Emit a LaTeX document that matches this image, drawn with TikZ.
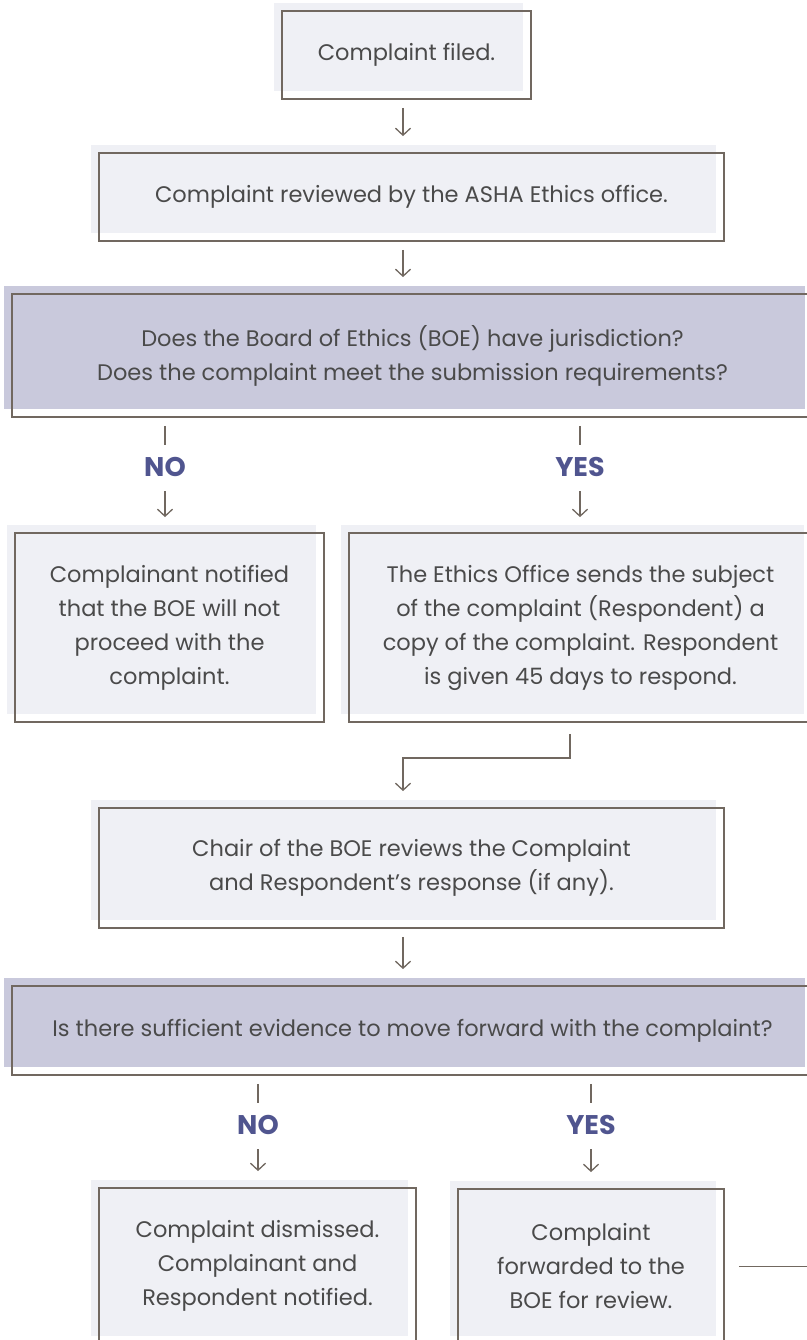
\documentclass[tikz,border=0pt]{standalone}
\usepackage{fontspec}
\setmainfont{Poppins}
\usepackage{tikz}
\usetikzlibrary{arrows.meta,positioning,calc}
\definecolor{edge}{HTML}{716860}
\definecolor{ink}{HTML}{4A4A4A}
\definecolor{paper}{HTML}{EFF0F5}
\definecolor{lilac}{HTML}{C9C9DC}
\definecolor{verdict}{HTML}{50558F}
\tikzset{
  plain box/.style={
    draw=edge,
    line width=1.8pt,
    text=ink,
    align=center,
    inner sep=0pt,
    font=\fontsize{22.5}{34}\selectfont,
    preaction={fill=#1, draw=none, transform canvas={shift={(-8pt,8pt)}}}
  },
  plain box/.default=paper,
  query box/.style={
    plain box=lilac
  },
  answer/.style={
    inner sep=0pt,
    minimum height=44pt,
    text=verdict,
    font=\fontsize{27}{27}\selectfont\bfseries
  }
}
\begin{document}
\begin{tikzpicture}[%
        x=1pt,
        y=-1pt,
        flow/.style={draw=edge, line width=1.3pt, shorten <=8pt, shorten >=16pt,
                     -{Straight Barb[length=7pt,width=15pt,line width=1.3pt]}},
        stem/.style={draw=edge, line width=1.3pt, shorten <=8pt}]
      \useasboundingbox (0,0) rectangle (806,1340);
      \coordinate (mid) at (403,0);
      \node[plain box, minimum width=249pt, minimum height=88pt]  (filed)    at (406.5,55)   {Complaint filed.};
      \node[plain box, minimum width=625pt, minimum height=88pt]  (reviewed) at (411.5,197)  {Complaint reviewed by the ASHA Ethics office.};
      \node[query box, minimum width=801pt, minimum height=123pt] (juris)    at (412.5,355.5)
           {Does the Board of Ethics (BOE) have jurisdiction?\\Does the complaint meet the submission requirements?};
      \node[answer]                                               (no_1)     at (165,467)    {NO};
      \node[answer]                                               (yes_1)    at (580,467)    {YES};
      \node[plain box, minimum width=309pt, minimum height=189pt] (notified) at (169.5,627.5)
           {Complainant notified\\that the BOE will not\\proceed with the\\complaint.};
      \node[plain box, minimum width=463pt, minimum height=189pt] (sent)     at (580.5,627.5)
           {The Ethics Office sends the subject\\of the complaint (Respondent) a\\copy of the complaint. Respondent\\is given 45 days to respond.};
      \node[plain box, minimum width=625pt, minimum height=120pt] (chair)    at (411.5,868)
           {Chair of the BOE reviews the Complaint\\and Respondent’s response (if any).};
      \node[query box, minimum width=801pt, minimum height=89pt]  (evidence) at (412.5,1030.5)
           {Is there sufficient evidence to move forward with the complaint?};
      \node[answer]                                               (no_2)     at (258,1125)   {NO};
      \node[answer]                                               (yes_2)    at (591,1125)   {YES};
      \node[plain box, minimum width=317pt, minimum height=156pt] (dismissed) at (257.5,1266)
           {Complaint dismissed.\\Complainant and\\Respondent notified.};
      \node[plain box, minimum width=266pt, minimum height=155pt] (forwarded) at (591,1266.5)
           {Complaint\\forwarded to the\\BOE for review.};
      % connectors
      \path[flow] (filed.south -| mid)    -- (reviewed.north -| mid);
      \path[flow] (reviewed.south -| mid) -- (juris.north -| mid);
      \path[stem] (juris.south -| no_1)   -- (no_1.north);
      \path[stem] (juris.south -| yes_1)  -- (yes_1.north);
      \path[flow, shorten <=2pt, shorten >=15pt] (no_1.south)  -- (notified.north -| no_1);
      \path[flow, shorten <=2pt, shorten >=15pt] (yes_1.south) -- (sent.north -| yes_1);
      \path[flow, shorten <=11pt] ([xshift=-10.5pt]sent.south) -- ++(0,35) -| (chair.north -| mid);
      \path[flow] (chair.south -| mid)    -- (evidence.north -| mid);
      \path[stem] (evidence.south -| no_2)  -- (no_2.north);
      \path[stem] (evidence.south -| yes_2) -- (yes_2.north);
      \path[flow, shorten <=2pt] (no_2.south)  -- (dismissed.north -| no_2);
      \path[flow, shorten <=2pt] (yes_2.south) -- (forwarded.north -| yes_2);
      \path[stem, shorten <=14pt] (forwarded.east) -- ++(90,0);
    \end{tikzpicture}
\end{document}
